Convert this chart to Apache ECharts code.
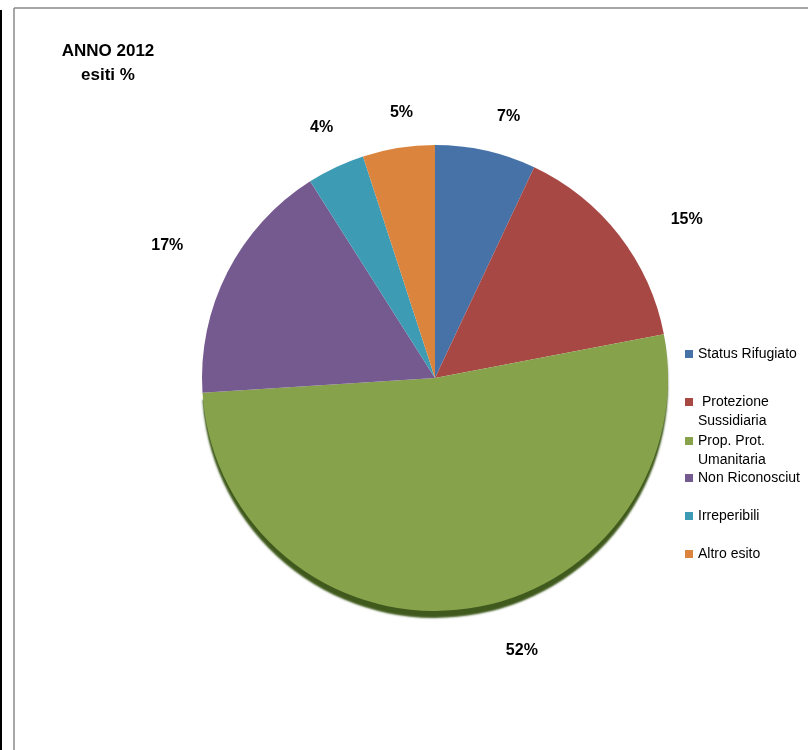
<!DOCTYPE html>
<html>
<head>
<meta charset="utf-8">
<title>ANNO 2012 esiti %</title>
<script type="text/javascript" src="https://cdn.jsdelivr.net/npm/echarts@6/dist/echarts.min.js"></script>
</head>
<body style="margin: 0; background: #fff">
<div id="container" style="width: 808px; height: 750px"></div>
<script type="text/javascript">
// dati
var categories = ['Status Rifugiato', 'Protezione Sussidiaria', 'Prop. Prot. Umanitaria', 'Non Riconosciuti', 'Irreperibili', 'Altro esito'];
var values = [7, 15, 52, 17, 4, 5];
// testo della legenda come appare (a capo / tagliato)
var legendLines = [['Status Rifugiato'], [' Protezione', 'Sussidiaria'], ['Prop. Prot.', 'Umanitaria'], ['Non Riconosciut'], ['Irreperibili'], ['Altro esito']];

// layout (non dati)
var colors = ['#4672a8', '#a74845', '#86a24b', '#755a90', '#3d9bb4', '#db843e'];
var labelNudge = [[13, 10], [32, 12], [52, -3], [-20, -6], [5, 1], [10, 9]]; // etichette come le ha messe Excel
var legendTop = [347, 395, 434, 471, 509, 547];  // una legenda per voce
var font = '"Liberation Sans", Arial, sans-serif';

var dom = document.getElementById('container');
var myChart = echarts.init(dom);

var pieData = categories.map(function (name, i) {
    var item = { name: name, value: values[i] };
    // bordo 3D scuro sotto la fetta grande
    if (i === 2) {
        item.itemStyle = { shadowColor: '#3f5a1c', shadowOffsetY: 7, shadowBlur: 2 };
    }
    return item;
});

var legendText = { fontFamily: font, fontSize: 14, color: '#000' };
var legends = categories.map(function (name, i) {
    return {
        orient: 'vertical',
        left: 685,
        top: legendTop[i],
        padding: 0,
        icon: 'rect',
        itemWidth: 8,
        itemHeight: 8,
        selectedMode: false,
        data: [name],
        formatter: function () {
            var l = legendLines[i];
            return '{l1|' + l[0] + '}' + (l[1] ? '\n{l2|' + l[1] + '}' : '');
        },
        textStyle: {
            fontFamily: font, fontSize: 14, color: '#000',
            rich: {
                l1: echarts.util.extend({ lineHeight: 19 }, legendText),
                // seconda riga: non conta nell'altezza, cosi' il quadratino resta sulla prima
                l2: echarts.util.extend({ lineHeight: 0, verticalAlign: 'top', padding: [3, 0, 0, 0] }, legendText)
            }
        }
    };
});

var option = {
    backgroundColor: '#fff',
    animation: false,
    color: colors,
    title: {
        text: 'ANNO 2012\nesiti %',
        left: 108,
        top: 39,
        textAlign: 'center',
        padding: 0,
        textStyle: { fontFamily: font, fontSize: 17, fontWeight: 'bold', color: '#000', lineHeight: 24 }
    },
    legend: legends,
    graphic: [
        { type: 'line', shape: { x1: 14, y1: 8, x2: 808, y2: 8 }, style: { stroke: '#8a8a8a', lineWidth: 1.5 } },
        { type: 'line', shape: { x1: 14, y1: 8, x2: 14, y2: 750 }, style: { stroke: '#8a8a8a', lineWidth: 1.5 } },
        { type: 'line', shape: { x1: 1, y1: 10, x2: 1, y2: 750 }, style: { stroke: '#000', lineWidth: 2 } }
    ],
    series: [{
        type: 'pie',
        center: [435, 378],
        radius: 233,
        startAngle: 90,
        clockwise: true,
        avoidLabelOverlap: false,
        emphasis: { disabled: true },
        label: {
            show: true,
            position: 'outside',
            formatter: '{c}%',
            distanceToLabelLine: 0,
            fontFamily: font,
            fontSize: 16,
            fontWeight: 'bold',
            color: '#000'
        },
        labelLine: { show: false, length: 45, length2: 0 },
        // etichette centrate sul raggio + piccolo spostamento
        labelLayout: function (p) {
            var w = p.labelRect.width;
            var dx = p.align === 'left' ? -w / 2 : (p.align === 'right' ? w / 2 : 0);
            var n = labelNudge[p.dataIndex];
            return { dx: dx + n[0], dy: n[1] };
        },
        data: pieData
    }]
};

myChart.setOption(option);
window.onresize = function () {
    myChart.resize();
};
</script>
</body>
</html>
